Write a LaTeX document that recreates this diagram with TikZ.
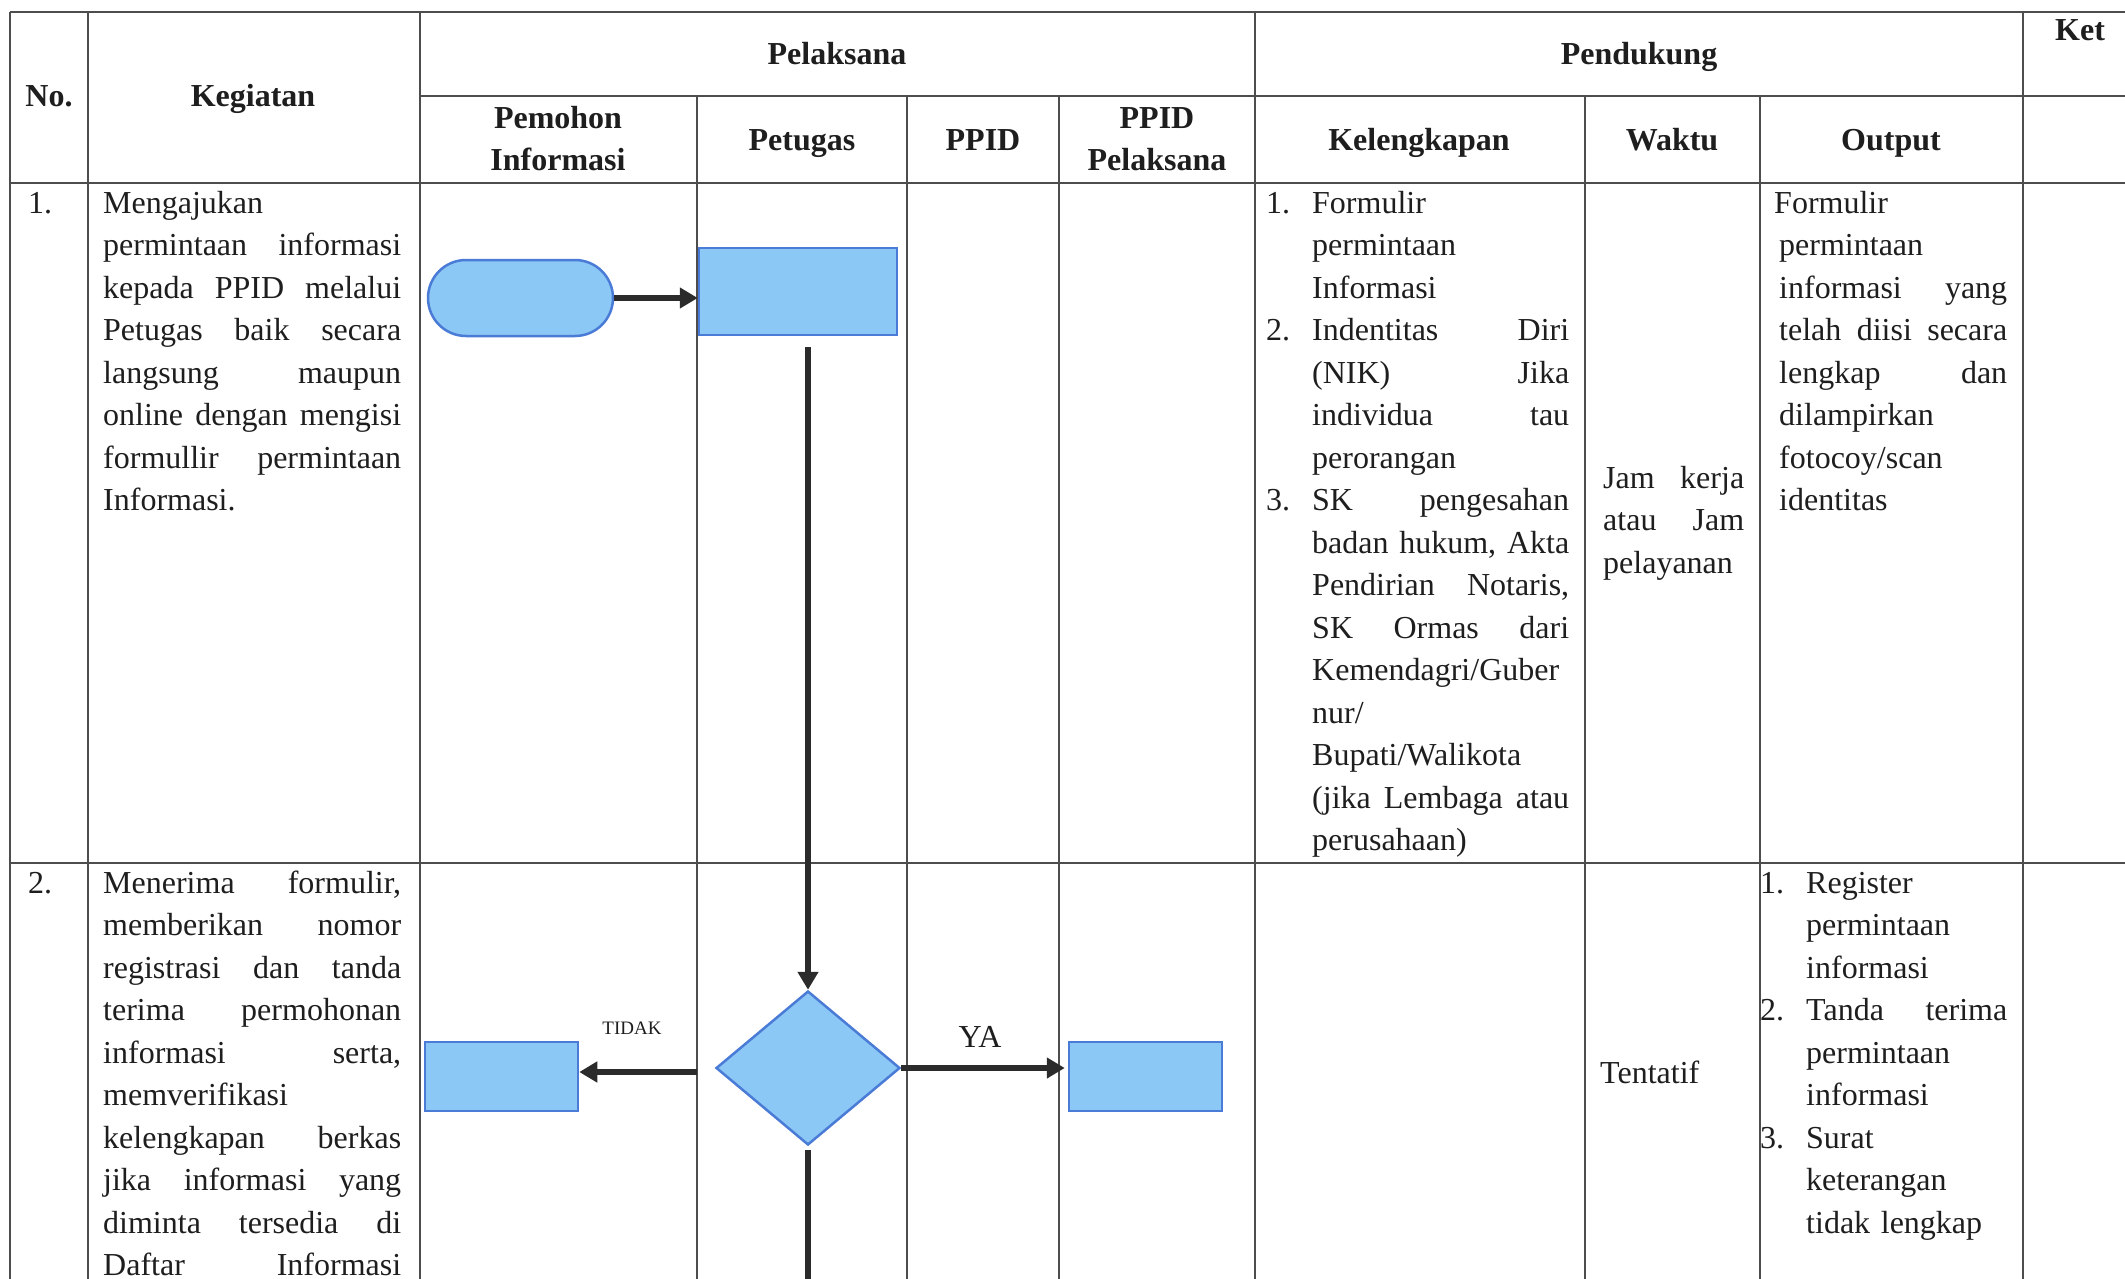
\documentclass[tikz,border=0pt]{standalone}
\usepackage{fontspec}
\setmainfont{Liberation Serif}
\usetikzlibrary{arrows.meta,shapes.geometric}
\definecolor{gridc}{HTML}{4D4D4D}
\definecolor{txt}{HTML}{1E1E1E}
\definecolor{sfill}{HTML}{8CC8F5}
\definecolor{sdraw}{HTML}{4A7BD6}
\definecolor{arr}{HTML}{2B2B2B}
\newcommand{\NUM}[1]{\leavevmode\llap{\makebox[46pt][l]{#1}}}
\begin{document}
\begin{tikzpicture}[x=1pt,y=-1pt,
  grid/.style={draw=gridc,line width=1.8pt},
  body/.style={font=\fontsize{32}{42.5}\selectfont, text=txt, inner sep=0pt, align=left, anchor=base west},
  head/.style={font=\fontsize{32}{42}\selectfont\bfseries, text=txt, inner sep=0pt, align=center},
  shapebox/.style={draw=sdraw, fill=sfill, line width=2.5pt, inner sep=0pt},
  conn/.style={draw=arr, line width=6pt, -{Triangle[length=18pt,width=20pt]}},
  plainline/.style={draw=arr, line width=6pt},
]
\fill[white] (0,0) rectangle (2125,1279);
\useasboundingbox (0,0) rectangle (2125,1279);

% table grid
\draw[grid] (10,12) -- (2135,12);
\draw[grid] (420,96) -- (2135,96);
\draw[grid] (10,183) -- (2135,183);
\draw[grid] (10,863) -- (2135,863);
\foreach \x in {10,88,420,1255,2023} \draw[grid] (\x,12) -- (\x,1290);
\foreach \x in {697,907,1059,1585,1760} \draw[grid] (\x,96) -- (\x,1290);

% headers
\node[head, anchor=base] (hno) at (49,107) {No.};
\node[head, anchor=base] (hkeg) at (253,107) {Kegiatan};
\node[head, anchor=base] (hpel) at (837,65) {Pelaksana};
\node[head, anchor=base] (hpen) at (1639,65) {Pendukung};
\node[head] (hket) at (2080,30) {Ket};
\node[head] (hpem) at (558,139) {Pemohon\\Informasi};
\node[head, anchor=base] (hpet) at (802,150) {Petugas};
\node[head, anchor=base] (hppid) at (983,150) {PPID};
\node[head] (hppidp) at (1157,139) {PPID\\Pelaksana};
\node[head, anchor=base] (hkel) at (1419,150) {Kelengkapan};
\node[head, anchor=base] (hwak) at (1672,150) {Waktu};
\node[head, anchor=base] (hout) at (1891,150) {Output};

% row 1
\node[body] (no1) at (28,213) {1.};
\node[body, text width=298pt] (keg1) at (103,213) {Mengajukan\\
permintaan\hfill informasi\\
kepada\hfill PPID\hfill melalui\\
Petugas\hfill baik\hfill secara\\
langsung\hfill maupun\\
online\hfill dengan\hfill mengisi\\
formullir\hfill permintaan\\
Informasi.};
\node[body, text width=257pt] (kel1) at (1312,213) {\NUM{1.}Formulir\\
permintaan\\
Informasi\\
\NUM{2.}Indentitas\hfill Diri\\
(NIK)\hfill Jika\\
individua\hfill tau\\
perorangan\\
\NUM{3.}SK\hfill pengesahan\\
badan\hfill hukum,\hfill Akta\\
Pendirian\hfill Notaris,\\
SK\hfill Ormas\hfill dari\\
Kemendagri/Guber\\
nur/\\
Bupati/Walikota\\
(jika\hfill Lembaga\hfill atau\\
perusahaan)};
\node[body, text width=141pt, anchor=west] (wak1) at (1603,523) {Jam\hfill kerja\\
atau\hfill Jam\\
pelayanan};
\node[body, text width=228pt] (out1) at (1779,213) {\hspace*{-5pt}Formulir\\
permintaan\\
informasi\hfill yang\\
telah\hfill diisi\hfill secara\\
lengkap\hfill dan\\
dilampirkan\\
fotocoy/scan\\
identitas};

% row 2
\node[body] (no2) at (28,893) {2.};
\node[body, text width=298pt] (keg2) at (103,893) {Menerima\hfill formulir,\\
memberikan\hfill nomor\\
registrasi\hfill dan\hfill tanda\\
terima\hfill permohonan\\
informasi\hfill serta,\\
memverifikasi\\
kelengkapan\hfill berkas\\
jika\hfill informasi\hfill yang\\
diminta\hfill tersedia\hfill di\\
Daftar\hfill Informasi};
\node[body, anchor=west] (wak2) at (1600,1072) {Tentatif};
\node[body, text width=201pt] (out2) at (1806,893) {\NUM{1.}Register\\
permintaan\\
informasi\\
\NUM{2.}Tanda\hfill terima\\
permintaan\\
informasi\\
\NUM{3.}Surat\\
keterangan\\
tidak lengkap};

% flowchart shapes
\node[shapebox, rounded corners=38pt, minimum width=185pt, minimum height=76pt] (start) at (520.5,298) {};
\node[shapebox, minimum width=198pt, minimum height=87pt] (r1) at (798,291.5) {};
\node[shapebox, diamond, minimum width=184pt, minimum height=154pt] (dec) at (808,1068) {};
\node[shapebox, minimum width=153pt, minimum height=69pt] (lbox) at (501.5,1076.5) {};
\node[shapebox, minimum width=153pt, minimum height=69pt] (rbox) at (1145.5,1076.5) {};
\coordinate (bot) at (807,1290);

% connectors
\draw[conn] (start.east) -- (start.east -| r1.west);
\draw[conn, shorten <=11pt] (r1.south -| dec.north) -- (dec.north);
\draw[conn, shorten >=3pt] (dec.east) -- (dec.east -| rbox.west);
\draw[conn, shorten <=18pt] ([yshift=-4pt]dec.west) -- ([yshift=-4pt]dec.west -| lbox.east);
\draw[plainline, shorten <=4pt] (dec.south) -- (dec.south |- bot);

% labels
\node[font=\fontsize{19}{22}\selectfont, text=txt, inner sep=0pt] (ltidak) at (632,1028) {TIDAK};
\node[font=\fontsize{32}{38}\selectfont, text=txt, inner sep=0pt] (lya) at (980,1037) {YA};
\end{tikzpicture}
\end{document}
